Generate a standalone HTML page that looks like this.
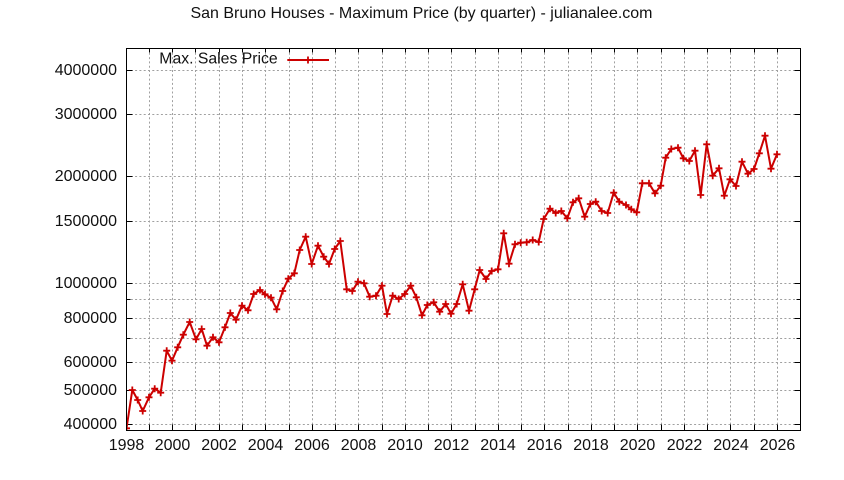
<!DOCTYPE html>
<html>
<head>
<meta charset="utf-8">
<style>
  html,body{margin:0;padding:0;background:#fff;}
  svg{display:block;}
  text{font-family:"Liberation Sans",Arial,sans-serif;font-size:16px;fill:#111;}
</style>
</head>
<body>
<svg width="844" height="480" viewBox="0 0 844 480" xmlns="http://www.w3.org/2000/svg">
  <rect x="0" y="0" width="844" height="480" fill="#fff"/>
  <!-- title -->
  <text x="421.5" y="18" text-anchor="middle" textLength="462" lengthAdjust="spacingAndGlyphs">San Bruno Houses - Maximum Price (by quarter) - julianalee.com</text>

  <!-- grid -->
  <g stroke="#a0a0a0" stroke-width="1" stroke-dasharray="2,2.3" fill="none">
    <path d="M149.5 48.5V430.5 M172.5 48.5V430.5 M195.5 48.5V430.5 M219.5 48.5V430.5 M242.5 48.5V430.5 M265.5 48.5V430.5 M289.5 48.5V430.5 M312.5 48.5V430.5 M335.5 48.5V430.5 M358.5 48.5V430.5 M382.5 48.5V430.5 M405.5 48.5V430.5 M428.5 48.5V430.5 M451.5 48.5V430.5 M475.5 48.5V430.5 M498.5 48.5V430.5 M521.5 48.5V430.5 M544.5 48.5V430.5 M568.5 48.5V430.5 M591.5 48.5V430.5 M614.5 48.5V430.5 M637.5 48.5V430.5 M661.5 48.5V430.5 M684.5 48.5V430.5 M707.5 48.5V430.5 M730.5 48.5V430.5 M754.5 48.5V430.5 M777.5 48.5V430.5"/>
    <path d="M126.5 424.5H800.5 M126.5 390.5H800.5 M126.5 362.5H800.5 M126.5 338.5H800.5 M126.5 318.5H800.5 M126.5 299.5H800.5 M126.5 283.5H800.5 M126.5 221.5H800.5 M126.5 176.5H800.5 M126.5 114.5H800.5 M126.5 70.5H800.5"/>
  </g>

  <!-- ticks -->
  <g stroke="#000" stroke-width="1" fill="none">
    <path d="M126.5 424.5h6 M126.5 390.5h6 M126.5 362.5h6 M126.5 338.5h4 M126.5 318.5h6 M126.5 299.5h4 M126.5 283.5h6 M126.5 221.5h6 M126.5 176.5h6 M126.5 114.5h6 M126.5 70.5h6"/>
    <path d="M800.5 424.5h-6 M800.5 390.5h-6 M800.5 362.5h-6 M800.5 338.5h-4 M800.5 318.5h-6 M800.5 299.5h-4 M800.5 283.5h-6 M800.5 221.5h-6 M800.5 176.5h-6 M800.5 114.5h-6 M800.5 70.5h-6"/>
    <path d="M149.5 430.5v-6 M172.5 430.5v-6 M195.5 430.5v-6 M219.5 430.5v-6 M242.5 430.5v-6 M265.5 430.5v-6 M289.5 430.5v-6 M312.5 430.5v-6 M335.5 430.5v-6 M358.5 430.5v-6 M382.5 430.5v-6 M405.5 430.5v-6 M428.5 430.5v-6 M451.5 430.5v-6 M475.5 430.5v-6 M498.5 430.5v-6 M521.5 430.5v-6 M544.5 430.5v-6 M568.5 430.5v-6 M591.5 430.5v-6 M614.5 430.5v-6 M637.5 430.5v-6 M661.5 430.5v-6 M684.5 430.5v-6 M707.5 430.5v-6 M730.5 430.5v-6 M754.5 430.5v-6 M777.5 430.5v-6"/>
    <path d="M149.5 48.5v4 M172.5 48.5v4 M195.5 48.5v4 M219.5 48.5v4 M242.5 48.5v4 M265.5 48.5v4 M289.5 48.5v4 M312.5 48.5v4 M335.5 48.5v4 M358.5 48.5v4 M382.5 48.5v4 M405.5 48.5v4 M428.5 48.5v4 M451.5 48.5v4 M475.5 48.5v4 M498.5 48.5v4 M521.5 48.5v4 M544.5 48.5v4 M568.5 48.5v4 M591.5 48.5v4 M614.5 48.5v4 M637.5 48.5v4 M661.5 48.5v4 M684.5 48.5v4 M707.5 48.5v4 M730.5 48.5v4 M754.5 48.5v4 M777.5 48.5v4"/>
  </g>

  <!-- y labels -->
  <g text-anchor="end">
    <text x="117" y="75">4000000</text>
    <text x="117" y="119">3000000</text>
    <text x="117" y="181">2000000</text>
    <text x="117" y="226">1500000</text>
    <text x="117" y="288">1000000</text>
    <text x="117" y="323">800000</text>
    <text x="117" y="367">600000</text>
    <text x="117" y="395">500000</text>
    <text x="117" y="429">400000</text>
  </g>

  <!-- x labels -->
  <g text-anchor="middle">
    <text x="126.5" y="450">1998</text>
    <text x="172.5" y="450">2000</text>
    <text x="219" y="450">2002</text>
    <text x="265.5" y="450">2004</text>
    <text x="312" y="450">2006</text>
    <text x="358.5" y="450">2008</text>
    <text x="405" y="450">2010</text>
    <text x="451.5" y="450">2012</text>
    <text x="498" y="450">2014</text>
    <text x="544.5" y="450">2016</text>
    <text x="591" y="450">2018</text>
    <text x="637.5" y="450">2020</text>
    <text x="684.5" y="450">2022</text>
    <text x="731" y="450">2024</text>
    <text x="777.5" y="450">2026</text>
  </g>

  <!-- legend -->
  <text x="159.3" y="63.3" textLength="118.4" lengthAdjust="spacingAndGlyphs">Max. Sales Price</text>
  <path d="M287.3 60H329" stroke="#cc0000" stroke-width="2" fill="none"/>
  <path d="M304.5 60h7 M308 56.5v7" stroke="#cc0000" stroke-width="1.8" fill="none"/>

  <!-- data -->
  <defs>
    <clipPath id="pa"><rect x="126.5" y="48.5" width="674" height="382"/></clipPath>
  </defs>
  <g clip-path="url(#pa)">
    <polyline fill="none" stroke="#cc0000" stroke-width="2" stroke-linejoin="round" points="
126.5,428.3 132.3,390 137.7,400 142.7,411 149,397.3 154.7,388.7 160.7,392.7 166.7,350.7 172,360.7 177.7,347.3
183.3,334.7 189.7,322 196,339.3 201.7,329 207,345.7 213,337.3 219,342.3 225,327.3 230.3,313 236,319.7
242,305.7 248,310.3 253.7,294 260,290 265,294.3 271,297.7 276.7,309.3 282.7,291 288.3,278.7 294.3,273.3
299.7,250 305.7,236.7 311.7,264 318,245.7 323.7,256.7 329,264 334.7,249 340.3,241 346.7,289.3 352.3,291
358,281.7 364,283.3 369.7,296.7 376,295.7 382,285.7 387,314 392.7,295.7 398.7,299 404.7,294 410.7,285.7
416.3,297.3 422,315.3 427.3,305 433.7,302.3 439.7,311.7 445.7,304 451,313.7 456.7,304 462.7,284.3 469,310.7
474.7,289.3 479.7,270 486,279 491.7,271 498,269.3 503.7,233.3 509,263.7 515,244.3 520.7,242.7 526.7,242.3
532.7,240 538.7,242 543.7,219 550,208.7 555.7,213 561.3,211 567.3,218.3 573,202.3 578.7,198.3 584.7,216.7
590.3,204 595.7,201.7 601.7,211 607.7,213 613.7,192.7 619.3,201.7 626,205 631.3,209.3 636.7,212.3 642.3,183.3
649,183.3 655,193.3 660.7,185.7 665.7,157.7 671.3,149 678,147.7 683.3,158.3 689.3,161 695,150.7 700.7,195
706.7,144.3 712.7,175.7 719,168.3 724.3,195.7 730,179.3 736,186 742,161.7 748,173.7 754,169 759.3,153.3
765,135.7 771,168.7 777,154.3"/>
    <path fill="none" stroke="#cc0000" stroke-width="1.8" d="
M123,428.3h7M126.5,424.8v7 M128.8,390h7M132.3,386.5v7 M134.2,400h7M137.7,396.5v7 M139.2,411h7M142.7,407.5v7 M145.5,397.3h7M149,393.8v7
M151.2,388.7h7M154.7,385.2v7 M157.2,392.7h7M160.7,389.2v7 M163.2,350.7h7M166.7,347.2v7 M168.5,360.7h7M172,357.2v7 M174.2,347.3h7M177.7,343.8v7
M179.8,334.7h7M183.3,331.2v7 M186.2,322h7M189.7,318.5v7 M192.5,339.3h7M196,335.8v7 M198.2,329h7M201.7,325.5v7 M203.5,345.7h7M207,342.2v7
M209.5,337.3h7M213,333.8v7 M215.5,342.3h7M219,338.8v7 M221.5,327.3h7M225,323.8v7 M226.8,313h7M230.3,309.5v7 M232.5,319.7h7M236,316.2v7
M238.5,305.7h7M242,302.2v7 M244.5,310.3h7M248,306.8v7 M250.2,294h7M253.7,290.5v7 M256.5,290h7M260,286.5v7 M261.5,294.3h7M265,290.8v7
M267.5,297.7h7M271,294.2v7 M273.2,309.3h7M276.7,305.8v7 M279.2,291h7M282.7,287.5v7 M284.8,278.7h7M288.3,275.2v7 M290.8,273.3h7M294.3,269.8v7
M296.2,250h7M299.7,246.5v7 M302.2,236.7h7M305.7,233.2v7 M308.2,264h7M311.7,260.5v7 M314.5,245.7h7M318,242.2v7 M320.2,256.7h7M323.7,253.2v7
M325.5,264h7M329,260.5v7 M331.2,249h7M334.7,245.5v7 M336.8,241h7M340.3,237.5v7 M343.2,289.3h7M346.7,285.8v7 M348.8,291h7M352.3,287.5v7
M354.5,281.7h7M358,278.2v7 M360.5,283.3h7M364,279.8v7 M366.2,296.7h7M369.7,293.2v7 M372.5,295.7h7M376,292.2v7 M378.5,285.7h7M382,282.2v7
M383.5,314h7M387,310.5v7 M389.2,295.7h7M392.7,292.2v7 M395.2,299h7M398.7,295.5v7 M401.2,294h7M404.7,290.5v7 M407.2,285.7h7M410.7,282.2v7
M412.8,297.3h7M416.3,293.8v7 M418.5,315.3h7M422,311.8v7 M423.8,305h7M427.3,301.5v7 M430.2,302.3h7M433.7,298.8v7 M436.2,311.7h7M439.7,308.2v7
M442.2,304h7M445.7,300.5v7 M447.5,313.7h7M451,310.2v7 M453.2,304h7M456.7,300.5v7 M459.2,284.3h7M462.7,280.8v7 M465.5,310.7h7M469,307.2v7
M471.2,289.3h7M474.7,285.8v7 M476.2,270h7M479.7,266.5v7 M482.5,279h7M486,275.5v7 M488.2,271h7M491.7,267.5v7 M494.5,269.3h7M498,265.8v7
M500.2,233.3h7M503.7,229.8v7 M505.5,263.7h7M509,260.2v7 M511.5,244.3h7M515,240.8v7 M517.2,242.7h7M520.7,239.2v7 M523.2,242.3h7M526.7,238.8v7
M529.2,240h7M532.7,236.5v7 M535.2,242h7M538.7,238.5v7 M540.2,219h7M543.7,215.5v7 M546.5,208.7h7M550,205.2v7 M552.2,213h7M555.7,209.5v7
M557.8,211h7M561.3,207.5v7 M563.8,218.3h7M567.3,214.8v7 M569.5,202.3h7M573,198.8v7 M575.2,198.3h7M578.7,194.8v7 M581.2,216.7h7M584.7,213.2v7
M586.8,204h7M590.3,200.5v7 M592.2,201.7h7M595.7,198.2v7 M598.2,211h7M601.7,207.5v7 M604.2,213h7M607.7,209.5v7 M610.2,192.7h7M613.7,189.2v7
M615.8,201.7h7M619.3,198.2v7 M622.5,205h7M626,201.5v7 M627.8,209.3h7M631.3,205.8v7 M633.2,212.3h7M636.7,208.8v7 M638.8,183.3h7M642.3,179.8v7
M645.5,183.3h7M649,179.8v7 M651.5,193.3h7M655,189.8v7 M657.2,185.7h7M660.7,182.2v7 M662.2,157.7h7M665.7,154.2v7 M667.8,149h7M671.3,145.5v7
M674.5,147.7h7M678,144.2v7 M679.8,158.3h7M683.3,154.8v7 M685.8,161h7M689.3,157.5v7 M691.5,150.7h7M695,147.2v7 M697.2,195h7M700.7,191.5v7
M703.2,144.3h7M706.7,140.8v7 M709.2,175.7h7M712.7,172.2v7 M715.5,168.3h7M719,164.8v7 M720.8,195.7h7M724.3,192.2v7 M726.5,179.3h7M730,175.8v7
M732.5,186h7M736,182.5v7 M738.5,161.7h7M742,158.2v7 M744.5,173.7h7M748,170.2v7 M750.5,169h7M754,165.5v7 M755.8,153.3h7M759.3,149.8v7
M761.5,135.7h7M765,132.2v7 M767.5,168.7h7M771,165.2v7 M773.5,154.3h7M777,150.8v7"/>
  </g>

  <!-- border -->
  <rect x="126.5" y="48.5" width="674" height="382" fill="none" stroke="#000" stroke-width="1"/>
</svg>
</body>
</html>
